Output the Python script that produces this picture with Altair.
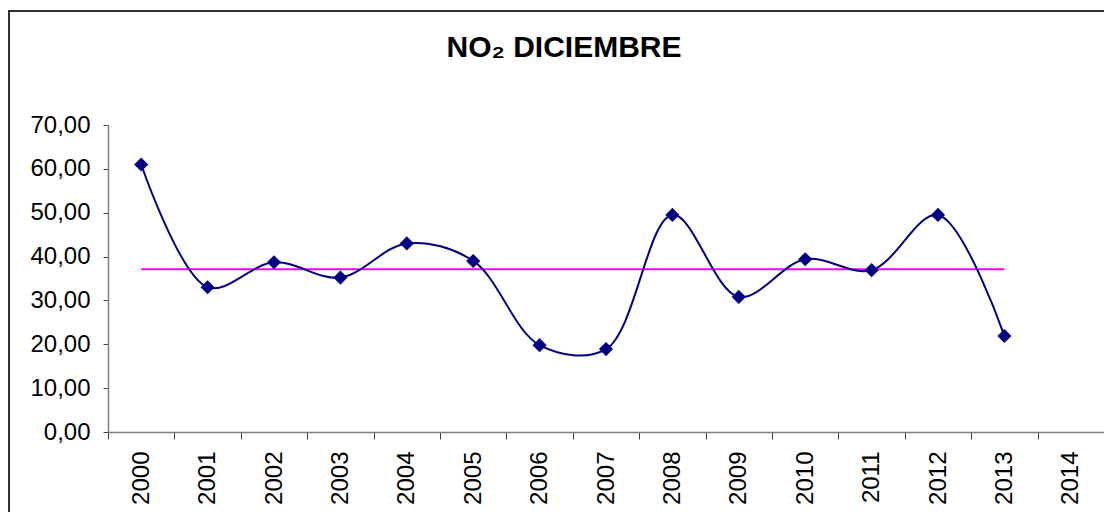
import altair as alt
import pandas as pd

years = ["2000", "2001", "2002", "2003", "2004", "2005", "2006", "2007",
         "2008", "2009", "2010", "2011", "2012", "2013", "2014"]
no2_values = [61.0, 33.0, 38.7, 35.2, 43.0, 39.0, 19.8, 18.9,
              49.5, 30.8, 39.4, 36.9, 49.5, 21.9, None]
mean_level = 37.1
y_ticks = [0, 10, 20, 30, 40, 50, 60, 70]
title_text = "NO₂ DICIEMBRE"

df = pd.DataFrame({"year": years, "value": no2_values})
df_valid = df.dropna()
df_mean = pd.DataFrame({"year": years[:14], "mean": [mean_level] * 14})

FONT = "Liberation Sans"
x_scale = alt.Scale(type="band", domain=years, paddingInner=0, paddingOuter=0)

x_enc = alt.X("year:O", scale=x_scale,
              axis=alt.Axis(title=None, tickBand="extent", labelAngle=-90,
                            labelAlign="right", labelBaseline="middle",
                            labelPadding=12, tickSize=7, labelFontSize=24,
                            labelFont=FONT, labelColor="black",
                            domainColor="#808080", tickColor="#404040",
                            domainWidth=1.5, tickWidth=1, grid=False))
y_scale = alt.Scale(domain=[0, 70], nice=False, zero=True)
y_axis = alt.Axis(title=None, values=y_ticks, grid=False, tickSize=5,
                  labelPadding=13, labelFontSize=24, labelFont=FONT,
                  labelColor="black", domainColor="#808080",
                  tickColor="#404040", domainWidth=1.5,
                  labelExpr="replace(format(datum.value, '.2f'), '.', ',')")

mean_line = alt.Chart(df_mean).mark_line(color="#FF00FF", strokeWidth=2).encode(
    x=x_enc,
    y=alt.Y("mean:Q", scale=y_scale, axis=y_axis),
)

line = alt.Chart(df_valid).mark_line(color="#000080", strokeWidth=2,
                                     interpolate="catmull-rom").encode(
    x=alt.X("year:O", scale=x_scale),
    y=alt.Y("value:Q", scale=y_scale),
)

points = alt.Chart(df_valid).mark_point(shape="diamond", filled=True, size=200,
                                        color="#000080", opacity=1).encode(
    x=alt.X("year:O", scale=x_scale),
    y=alt.Y("value:Q", scale=y_scale),
)

frame = alt.Chart(alt.Data(values=[{}])).mark_rect(
    fill="transparent", stroke="#303030", strokeWidth=2).encode(
    x=alt.value(-99), x2=alt.value(1200),
    y=alt.value(-114), y2=alt.value(600),
)

title = alt.Chart(alt.Data(values=[{"t": title_text}])).mark_text(
    font=FONT, fontSize=30, fontWeight="bold", color="black",
    align="center", baseline="alphabetic").encode(
    text="t:N",
    x=alt.value(456), y=alt.value(-68),
)

chart = alt.layer(frame, mean_line, line, points, title).properties(
    width=996,
    height=307,
    background="white",
    autosize=alt.AutoSizeParams(type="none"),
    padding={"left": 100, "top": 117, "right": 0, "bottom": 80},
).configure_view(stroke=None).configure_axis(grid=False)

chart.save("out.html", embed_options={"renderer": "svg", "actions": False})
